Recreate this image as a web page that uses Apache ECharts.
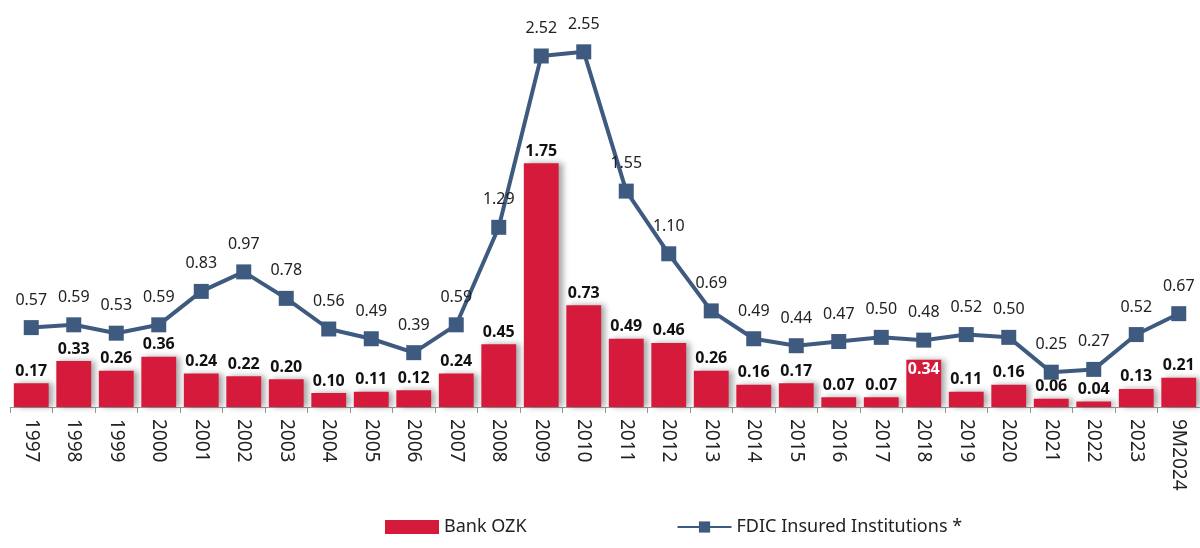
<!DOCTYPE html>
<html><head><meta charset="utf-8">
<script src="https://cdn.jsdelivr.net/npm/echarts@6/dist/echarts.min.js"></script>
<style>html,body{margin:0;padding:0;background:#fff}#c{width:1200px;height:548px}</style>
</head><body><div id="c"></div>
<script>
var categories = ['1997','1998','1999','2000','2001','2002','2003','2004','2005','2006','2007','2008','2009','2010','2011','2012','2013','2014','2015','2016','2017','2018','2019','2020','2021','2022','2023','9M2024'];
var bankOZK = [0.17,0.33,0.26,0.36,0.24,0.22,0.20,0.10,0.11,0.12,0.24,0.45,1.75,0.73,0.49,0.46,0.26,0.16,0.17,0.07,0.07,0.34,0.11,0.16,0.06,0.04,0.13,0.21];
var fdic = [0.57,0.59,0.53,0.59,0.83,0.97,0.78,0.56,0.49,0.39,0.59,1.29,2.52,2.55,1.55,1.10,0.69,0.49,0.44,0.47,0.50,0.48,0.52,0.50,0.25,0.27,0.52,0.67];
var insideLabelIndex = [21];

var FONT = '"Noto Sans",sans-serif';
var chart = echarts.init(document.getElementById('c'));
var barData = bankOZK.map(function(v,i){
  if (insideLabelIndex.indexOf(i) >= 0) {
    return {value:v,label:{position:'insideTop',color:'#fff',distance:2}};
  }
  return v;
});
chart.setOption({
  animation:false,
  grid:{left:10,right:-1,top:17,bottom:141},
  legend:{
    bottom:7,left:380,itemGap:150,itemWidth:54,itemHeight:14,
    textStyle:{fontFamily:FONT,fontSize:18,color:'#222'},
    data:[{name:'Bank OZK',icon:'rect'},{name:'FDIC Insured Institutions *'}]
  },
  xAxis:{
    type:'category',data:categories,
    axisLine:{lineStyle:{color:'#999',width:1}},
    axisTick:{show:true,lineStyle:{color:'#999'},length:6},
    axisLabel:{rotate:-90,fontFamily:FONT,fontSize:19,color:'#222',margin:12,interval:0}
  },
  yAxis:{type:'value',min:0,max:2.8,show:false,splitLine:{show:false}},
  series:[
    {name:'Bank OZK',type:'bar',data:barData,barCategoryGap:'18%',
     itemStyle:{color:'#D61A3C',shadowColor:'rgba(0,0,0,0.35)',shadowBlur:6,shadowOffsetX:4,shadowOffsetY:0},
     label:{show:true,position:'top',distance:4,fontFamily:FONT,fontSize:16,fontWeight:'bold',color:'#111',
       formatter:function(p){return p.value.toFixed(2);}}
    },
    {name:'FDIC Insured Institutions *',type:'line',data:fdic,
     symbol:'rect',symbolSize:15,
     lineStyle:{color:'#3F5A7F',width:4},
     itemStyle:{color:'#3F5A7F'},
     label:{show:true,position:'top',distance:12,fontFamily:FONT,fontSize:16,color:'#222',
       formatter:function(p){return p.value.toFixed(2);}},
     z:3
    }
  ]
});
</script></body></html>
